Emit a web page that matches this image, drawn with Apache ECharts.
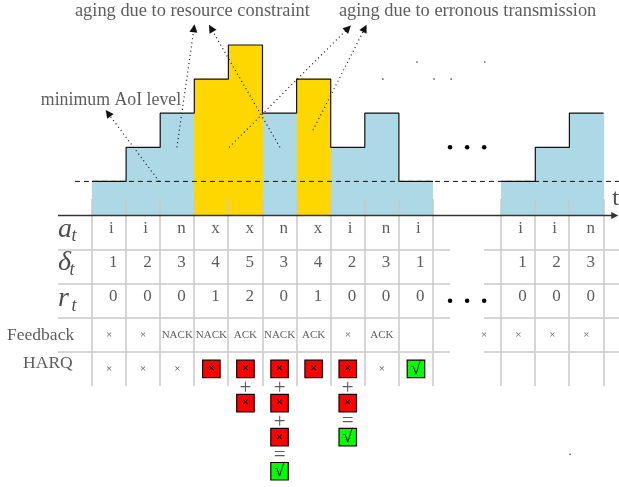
<!DOCTYPE html>
<html><head><meta charset="utf-8">
<style>html,body{margin:0;padding:0;background:#fff}#c{width:619px;height:487px}</style>
<script src="https://cdn.jsdelivr.net/npm/echarts@6/dist/echarts.min.js"></script>
</head><body><div id="c"></div>
<script>
// All values in slot units (x) and AoI units (y); table rows sit below y = 0.
var slotsA = [0,1,2,3,4,5,6,7,8,9];
var aoiA   = [1,2,3,4,5,3,4,2,3,1];
var kindsA = ['i','i','n','x','x','n','x','i','n','i'];
var slotsB = [12,13,14];
var aoiB   = [1,2,3];
var kindsB = ['i','i','n'];
var retxA  = [0,0,0,1,2,0,1,0,0,0];
var retxB  = [0,0,0];
var feedbackA = ['×','×','NACK','NACK','ACK','NACK','ACK','×','ACK',''];
var feedbackSlots = [11,12,13,14];
var feedbackB = ['×','×','×','×'];
var harqPlain = [[0,-4.5],[1,-4.5],[2,-4.5],[8,-4.5]];
var harqRed   = [[3,-4.5],[4,-4.5],[5,-4.5],[6,-4.5],[7,-4.5],[4,-5.5],[5,-5.5],[5,-6.5],[7,-5.5]];
var harqGreen = [[9,-4.5],[5,-7.5],[7,-6.5]];
var harqPlus  = [[4,-5.06],[5,-5.06],[5,-6.06],[7,-5.06]];
var harqEq    = [[5,-7.03],[7,-6.03]];
var dotArrows = [
  [[1.97,1.0],[0.47,3.0]],
  [[2.49,2.0],[2.99,5.49]],
  [[5.51,2.0],[3.49,5.49]],
  [[4.02,2.0],[7.51,5.49]],
  [[6.48,2.5],[8.0,5.49]]
];
var bigDots = [[10.5,2],[11,2],[11.5,2],[10.5,-2.5],[11,-2.5],[11.5,-2.5]];
var specks  = [[9.53,4.5],[11.52,4.5],[8.53,4],[10.03,4],[10.53,4],[14.02,-7]];
var topNotes = [
  ['aging due to resource constraint', -0.5, 5.98],
  ['aging due to erronous transmission', 7.24, 5.98]
];
var levelNote = [['minimum AoI level', -1.5, 3.39]];
var rowTitles = [['Feedback', -2.49, -3.53],['HARQ', -2.02, -4.33]];
var mathMain = [['a',-1.0,-0.42],['δ',-1.0,-1.38],['r',-1.0,-2.45]];
var mathSub  = [['t',-0.6,-0.62],['t',-0.66,-1.62],['t',-0.6,-2.65]];
var timeLabel = [['t',15.26,0.48]];
var gridTop = 0.48, gridBottom = -5;
var gridSlots = [0,1,2,3,4,5,6,7,8,9,10,12,13,14,15];
var rowLines = [-1,-2,-3,-4];

var UNIT = 34.1, X0 = 92, Y0 = 215.5, W = 619, H = 487;
var SERIF = '"Liberation Serif", serif';
var INK = '#333';

function lineItems(list){ return list.map(function(c){ return {coords:c}; }); }
function gridSegments(){
  var out = [];
  gridSlots.forEach(function(v){ out.push([v,gridTop,v,gridBottom]); });
  rowLines.forEach(function(r){
    out.push([-1,r,10.5,r]);
    out.push([11.5,r,15.45,r]);
  });
  return out;
}
function textSeries(list, font){
  return {
    type:'scatter', symbolSize:0, silent:true, z:20, clip:false,
    data:list.map(function(t){ return {value:[t[1],t[2],t[0]]}; }),
    label:{show:true, position:'inside', align:font.align||'left', verticalAlign:'middle',
      formatter:function(p){ return p.value[2]; },
      fontFamily:SERIF, fontSize:font.size, fontStyle:font.style||'normal', color:font.color||INK, fontWeight:font.weight||'normal'}
  };
}
function cellText(xs, ys, texts, size, align){
  return textSeries(texts.map(function(t,i){ return [t, xs[i]+0.5, ys]; }),
    {size:size, align:align});
}
function box(points, color, glyph, gsize){
  return {
    type:'scatter', symbol:'rect', symbolSize:17.5, z:15, silent:true,
    data:points.map(function(p){ return [p[0]+0.5,p[1]]; }),
    itemStyle:{color:color, borderColor:'#1a0000', borderWidth:1.2, opacity:1},
    label:{show:true, position:'inside', formatter:glyph, fontFamily:SERIF, fontSize:gsize, color:'#000', fontWeight:'bold'}
  };
}
function glyphs(points, g, size, color){
  return textSeries(points.map(function(p){ return [g,p[0]+0.5,p[1]]; }), {size:size, align:'center', color:color});
}
function bars(slots, vals, kinds){
  return {
    type:'custom', silent:true, z:2, clip:false,
    data:slots.map(function(s,i){ return [s,vals[i]]; }),
    renderItem:function(params, api){
      var a = api.coord([api.value(0), api.value(1)]);
      var b = api.coord([api.value(0)+1, 0]);
      var x0 = Math.round(a[0]), x1 = Math.round(b[0]), y0 = Math.round(a[1]), y1 = Math.round(b[1]);
      return {type:'rect', shape:{x:x0,y:y0,width:x1-x0,height:y1-y0},
        style:{fill:kinds[params.dataIndex]==='x'?'#ffd700':'#add8e6'}};
    }
  };
}
function steps(slots, vals){
  var d = slots.map(function(s,i){ return [s,vals[i]]; });
  d.push([slots[slots.length-1]+1, vals[vals.length-1]]);
  return {type:'line', step:'end', data:d, symbol:'none', silent:true, z:6,
    lineStyle:{color:'#111', width:1.2}};
}

var option = {
  animation:false,
  grid:{left:0, right:0, top:0, bottom:0},
  xAxis:{type:'value', show:false, min:-X0/UNIT, max:(W-X0)/UNIT, splitLine:{show:false}},
  yAxis:{type:'value', show:false, min:-(H-Y0)/UNIT, max:Y0/UNIT, splitLine:{show:false}},
  series:[
    bars(slotsA, aoiA, kindsA),
    bars(slotsB, aoiB, kindsB),
    {type:'custom', silent:true, z:4, clip:false, data:gridSegments(),
      renderItem:function(params, api){
        var a = api.coord([api.value(0), api.value(1)]);
        var b = api.coord([api.value(2), api.value(3)]);
        return {type:'line', shape:{x1:Math.round(a[0]),y1:Math.round(a[1]),x2:Math.round(b[0]),y2:Math.round(b[1])},
          style:{stroke:'#c8c8c8', lineWidth:1.5, fill:null}};
      }},
    steps(slotsA, aoiA),
    steps(slotsB, aoiB),
    {type:'line', data:[[-0.5,1],[15.45,1]], symbol:'none', silent:true, z:7,
      lineStyle:{color:'#111', width:1, type:[5,4]}},
    {type:'lines', coordinateSystem:'cartesian2d', silent:true, z:8, data:lineItems([[[-1,0],[15.33,0]]]),
      symbol:['none','triangle'], symbolSize:[9,7],
      lineStyle:{color:'#333', width:1.3, opacity:1}},
    {type:'lines', coordinateSystem:'cartesian2d', silent:true, z:9, data:lineItems(dotArrows),
      symbol:['none','triangle'], symbolSize:[8,8],
      lineStyle:{color:'#111', width:1.2, type:[1,3.2], opacity:1}},
    {type:'scatter', symbolSize:4.5, data:bigDots, silent:true, z:9, itemStyle:{color:'#000',opacity:1}},
    {type:'scatter', symbolSize:1.6, data:specks, silent:true, z:9, itemStyle:{color:'#333',opacity:1}},
    textSeries(topNotes, {size:18.4}),
    textSeries(levelNote, {size:17.8}),
    textSeries(rowTitles, {size:17.5}),
    textSeries(mathMain, {size:28, style:'italic', color:'#222'}),
    textSeries(mathSub, {size:18, style:'italic', color:'#222'}),
    textSeries(timeLabel, {size:24, color:'#222'}),
    cellText(slotsA, -0.38, kindsA, 17, 'left'),
    cellText(slotsB, -0.38, kindsB, 17, 'left'),
    cellText(slotsA, -1.38, aoiA, 17, 'left'),
    cellText(slotsB, -1.38, aoiB, 17, 'left'),
    cellText(slotsA, -2.38, retxA, 17, 'left'),
    cellText(slotsB, -2.38, retxB, 17, 'left'),
    cellText(slotsA, -3.5, feedbackA, 11, 'center'),
    cellText(feedbackSlots, -3.5, feedbackB, 11, 'center'),
    glyphs(harqPlain, '×', 11, '#222'),
    box(harqRed, '#ff0000', '×', 13),
    box(harqGreen, '#00ff00', '√', 18),
    glyphs(harqPlus, '+', 21),
    glyphs(harqEq, '=', 21)
  ]
};
echarts.init(document.getElementById('c'), null, {renderer:'canvas'}).setOption(option);
</script></body></html>
